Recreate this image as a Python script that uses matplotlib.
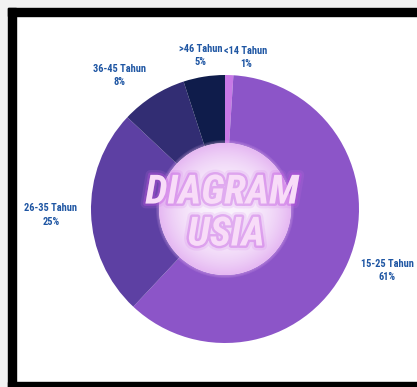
import numpy as np
import matplotlib
matplotlib.use('Agg')
import matplotlib.pyplot as plt
from matplotlib.patches import Rectangle, Circle
import matplotlib.patheffects as pe

# age groups, clockwise from the top
labels = ['<14 Tahun', '15-25 Tahun', '26-35 Tahun', '36-45 Tahun', '>46 Tahun']
shares = [1, 61, 25, 8, 5]
colors = ['#c878e6', '#8c55c8', '#5d40a3', '#322d73', '#0f1c4b']

# label anchor points (pixels, y up)
label_pos = [(246, 329.5), (387, 116.5), (51, 172), (120, 311.5), (201, 331.5)]

narrow = ['Roboto Condensed', 'Roboto', 'DejaVu Sans']

fig = plt.figure(figsize=(4.17, 3.87), dpi=100)
ax = fig.add_axes([0, 0, 1, 1])

ax.pie(shares, colors=colors, startangle=90, counterclock=False,
       center=(225, 178), radius=134, frame=True,
       wedgeprops=dict(width=134 - 66, linewidth=0))
ax.set_xlim(0, 417)
ax.set_ylim(0, 387)
ax.set_aspect('equal')
ax.axis('off')

cx, cy, r_in = 225, 178, 66

# frame
ax.add_patch(Rectangle((0, 0), 8, 387, color='#f2f2f2', zorder=0))
ax.add_patch(Rectangle((0, 379), 417, 8, color='#f2f2f2', zorder=0))
ax.add_patch(Rectangle((8, 0), 8, 379, color='black', zorder=1))
ax.add_patch(Rectangle((8, 371), 409, 8, color='black', zorder=1))
ax.add_patch(Rectangle((8, 0), 409, 5, color='black', zorder=1))

# faint halo round the hole
for k in range(3):
    ax.add_patch(Circle((cx, cy), r_in + 1.0 * (3 - k), color='#f0c0f8',
                        alpha=0.12, lw=0, zorder=3))

# radial gradient inside the hole
n = 300
xs = np.linspace(-1, 1, n)
xx, yy = np.meshgrid(xs, xs)
d = np.clip(np.sqrt(xx ** 2 + yy ** 2), 0, 1)
c0 = np.array([0.98, 0.95, 0.99])
c1 = np.array([0.90, 0.72, 0.95])
t = d ** 2.5
img = c0[None, None, :] * (1 - t[..., None]) + c1[None, None, :] * t[..., None]
im = ax.imshow(img, extent=(cx - r_in, cx + r_in, cy - r_in, cy + r_in),
               origin='lower', zorder=4, interpolation='bilinear')
im.set_clip_path(Circle((cx, cy), r_in, transform=ax.transData))

glow = [pe.Stroke(linewidth=7, foreground='#d070e8', alpha=0.15),
        pe.Stroke(linewidth=3.5, foreground='#c050e0', alpha=0.35),
        pe.Normal()]
ax.text(222, 194.5, 'DIAGRAM', ha='center', va='center', fontsize=29,
        family=narrow, weight='bold', style='italic', color='#f8dcf8',
        path_effects=glow, zorder=6)
ax.text(226, 152.5, 'USIA', ha='center', va='center', fontsize=29,
        family=narrow, weight='bold', style='italic', color='#f8dcf8',
        path_effects=glow, zorder=6)

for lab, val, (x, y) in zip(labels, shares, label_pos):
    ax.text(x, y, lab + '\n' + str(val) + '%', ha='center', va='center',
            fontsize=7.5, family=narrow, weight='bold', color='#1f56a3',
            linespacing=1.45, zorder=6)

fig.savefig('out.png', dpi=100)
